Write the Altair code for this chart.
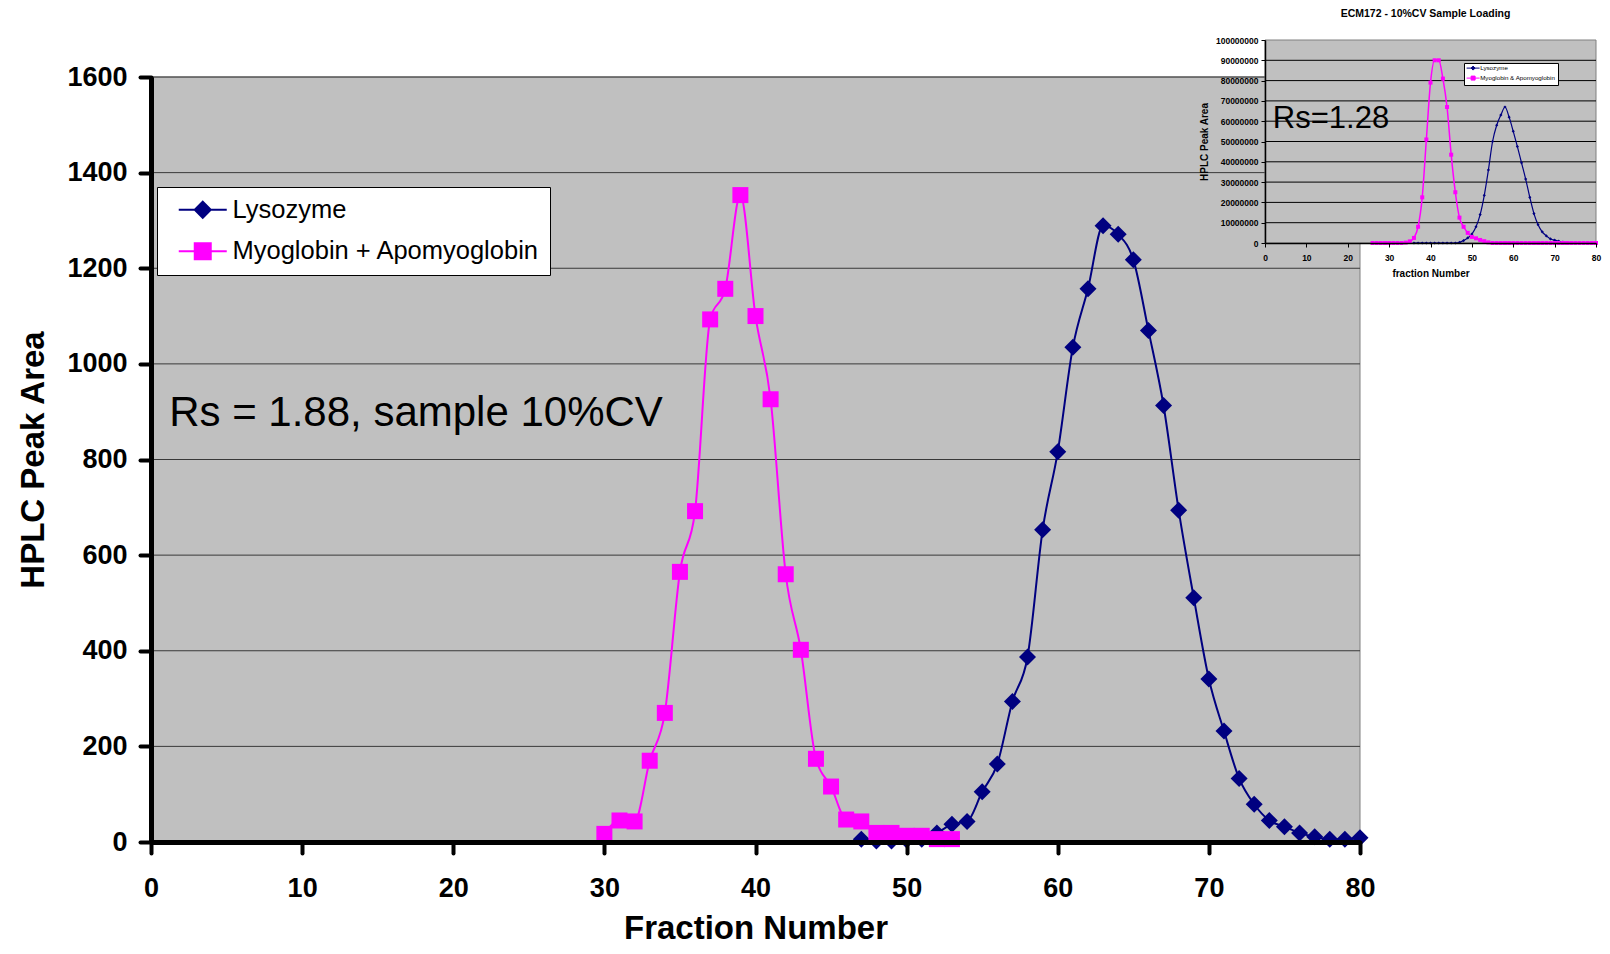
import altair as alt
import pandas as pd

FONT = "Liberation Sans"
NAVY = "#000080"
MAGENTA = "#FF00FF"
PLOT_BG = "#C0C0C0"

# ---------------- main chart data ----------------
series_names = ["Lysozyme", "Myoglobin + Apomyoglobin"]
myo_fraction = list(range(30, 54))
myo_area = [17, 45, 43, 170, 270, 565, 692, 1093, 1157, 1353, 1100, 926, 560, 402,
            174, 116, 47, 43, 19, 19, 13, 13, 6, 6]
lys_fraction = list(range(47, 81))
lys_area = [6, 2, 2, 4, 6, 19, 37, 43, 105, 163, 294, 387, 653, 816, 1035, 1157, 1289,
            1271, 1218, 1070, 913, 694, 511, 341, 232, 133, 79, 45, 32, 19, 11, 6, 6, 9]
main_x_ticks = list(range(0, 81, 10))
main_y_ticks = list(range(0, 1601, 200))
main_grid_vals = list(range(200, 1601, 200))
main_note = "Rs = 1.88, sample 10%CV"

# ---------------- inset chart data ----------------
inset_title = "ECM172 - 10%CV Sample Loading"
inset_series = ["Lysozyme", "Myoglobin & Apomyoglobin"]
inset_note = "Rs=1.28"
inset_myo_fraction = list(range(26, 81))
inset_myo_area = [0] * 8 + [0.2e6, 0.8e6, 2.5e6, 8e6, 22.5e6, 51e6, 79e6, 90e6, 90e6, 81e6,
                            67e6, 43.5e6, 25e6, 12.5e6, 8e6, 5e6, 3e6, 2.3e6, 1.5e6, 0.9e6,
                            0.3e6] + [0] * 26
inset_lys_fraction = list(range(36, 74))
inset_lys_area = [0] * 11 + [0.3e6, 1.2e6, 2.5e6, 4.4e6, 8e6, 14e6, 23.5e6, 36e6, 50e6, 58e6,
                             63e6, 67e6, 62e6, 55e6, 47.5e6, 39.5e6, 31.5e6, 22.5e6, 14.5e6,
                             9e6, 5.5e6, 3.5e6, 2e6, 1.4e6, 0.9e6, 0.4e6, 0.1e6]
inset_x_ticks = list(range(0, 81, 10))
inset_y_ticks = [i * 10_000_000 for i in range(11)]
inset_grid_vals = [i * 10_000_000 for i in range(1, 10)]

# ---------------- layout (pixels) ----------------
W, H = 1209, 765
IX0, IX1 = 1114, 1445      # inset plot x-range inside the canvas
IY0, IY1 = 166, -37        # inset plot y-range (bottom, top)

# legend symbols: connecting line + marker (custom SVG paths)
P_DIAMOND = "M-3,0L3,0M0,-1L1,0L0,1L-1,0Z"
P_SQUARE = "M-3,0L3,0M-1,-1L1,-1L1,1L-1,1Z"
P_DIAMOND_S = "M-3.25,0L3.25,0M0,-1L1,0L0,1L-1,0Z"
P_SQUARE_S = "M-3.25,0L3.25,0M-1,-1L1,-1L1,1L-1,1Z"

# ================= main chart =================
mx = alt.Scale(domain=[0, 80], nice=False, zero=False)
my = alt.Scale(domain=[0, 1600], nice=False)

main_x_axis = alt.Axis(
    orient="bottom", values=main_x_ticks, format="d", grid=False,
    domainColor="black", domainWidth=5, tickColor="black", tickWidth=4, tickSize=11,
    tickCap="round", labelFont=FONT, labelFontSize=27, labelFontWeight="bold",
    labelColor="black", labelPadding=22, labelFlush=False, labelOverlap=False,
    title="Fraction Number", titleFont=FONT, titleFontSize=33, titleFontWeight="bold",
    titleColor="black", titleX=W / 2, titleY=96, titleBaseline="alphabetic", zindex=1)
main_y_axis = alt.Axis(
    orient="left", values=main_y_ticks, format="d", grid=False,
    domainColor="black", domainWidth=5, tickColor="black", tickWidth=4, tickSize=11,
    tickCap="round", labelFont=FONT, labelFontSize=27, labelFontWeight="bold",
    labelColor="black", labelPadding=13, labelOverlap=False,
    title="HPLC Peak Area", titleFont=FONT, titleFontSize=33, titleFontWeight="bold",
    titleColor="black", titleX=-108, titleY=H / 2, titleBaseline="alphabetic",
    titleAngle=270, zindex=1)


def mxe(field):
    return alt.X(field, scale=mx, axis=main_x_axis)


def mye(field):
    return alt.Y(field, scale=my, axis=main_y_axis)


mbg_df = pd.DataFrame({"x0": [0], "x1": [80], "y0": [0], "y1": [1600]})
main_bg = alt.Chart(mbg_df).mark_rect(fill=PLOT_BG, stroke="#808080", strokeWidth=1).encode(
    x=mxe("x0:Q"), x2="x1", y=mye("y0:Q"), y2="y1")

mgrid_df = pd.DataFrame({"v": main_grid_vals, "x0": 0, "x1": 80})
main_grid = alt.Chart(mgrid_df).mark_rule(color="#383838", strokeWidth=1).encode(
    x=mxe("x0:Q"), x2="x1", y=mye("v:Q"))

lys_df = pd.DataFrame({"f": lys_fraction, "a": lys_area})
myo_df = pd.DataFrame({"f": myo_fraction, "a": myo_area})

lys_line = alt.Chart(lys_df).mark_line(color=NAVY, strokeWidth=2, interpolate="monotone").encode(
    x=mxe("f:Q"), y=mye("a:Q"))
lys_pts = alt.Chart(lys_df).mark_point(shape="diamond", filled=True, size=289, color=NAVY,
                                       opacity=1).encode(x=mxe("f:Q"), y=mye("a:Q"))
myo_line = alt.Chart(myo_df).mark_line(color=MAGENTA, strokeWidth=2, interpolate="monotone").encode(
    x=mxe("f:Q"), y=mye("a:Q"))
myo_pts = alt.Chart(myo_df).mark_point(shape="square", filled=True, size=256, color=MAGENTA,
                                       opacity=1).encode(x=mxe("f:Q"), y=mye("a:Q"))

note_df = pd.DataFrame({"x": [1.2], "y": [870], "t": [main_note]})
main_text = alt.Chart(note_df).mark_text(font=FONT, fontSize=42, align="left",
                                         baseline="alphabetic", color="black").encode(
    x=mxe("x:Q"), y=mye("y:Q"), text="t:N")

main_legend = alt.Legend(
    orient="none", legendX=6, legendY=110, title=None, fillColor="white", strokeColor="black",
    padding=10, cornerRadius=0, labelFont=FONT, labelFontSize=25.5, labelColor="black",
    labelLimit=0, labelExpr="datum.label + '\u00a0\u00a0'",
    symbolSize=256, symbolStrokeWidth=2, symbolOpacity=1, symbolOffset=23,
    labelOffset=17, rowPadding=14.5)
leg_df = pd.DataFrame({"entry": series_names})
main_leg = alt.Chart(leg_df).mark_point(filled=True, opacity=0, size=256, strokeWidth=2).encode(
    fill=alt.Fill("entry:N", scale=alt.Scale(domain=series_names, range=[NAVY, MAGENTA]),
                  legend=main_legend),
    stroke=alt.Stroke("entry:N", scale=alt.Scale(domain=series_names, range=[NAVY, MAGENTA]),
                      legend=main_legend),
    shape=alt.Shape("entry:N", scale=alt.Scale(domain=series_names, range=[P_DIAMOND, P_SQUARE]),
                    legend=main_legend))

main_layer = alt.layer(main_bg, main_grid, lys_line, lys_pts, myo_line, myo_pts, main_text,
                       main_leg)

# ================= inset chart =================
ix = alt.Scale(domain=[0, 80], range=[IX0, IX1], nice=False, zero=False)
iy = alt.Scale(domain=[0, 100_000_000], range=[IY0, IY1], nice=False)

inset_x_axis = alt.Axis(
    orient="bottom", offset=IY0 - H, values=inset_x_ticks, format="d", grid=False,
    domainColor="black", domainWidth=1.5, tickColor="black", tickWidth=1, tickSize=4,
    labelFont=FONT, labelFontSize=8.5, labelFontWeight="bold", labelColor="black",
    labelPadding=6, labelFlush=False, labelOverlap=False,
    title="fraction Number", titleFont=FONT, titleFontSize=10, titleFontWeight="bold",
    titleColor="black", titleX=(IX0 + IX1) / 2, titleY=33, titleBaseline="alphabetic", zindex=1)
inset_y_axis = alt.Axis(
    orient="left", offset=-IX0, values=inset_y_ticks, format="d", grid=False,
    domainColor="black", domainWidth=1.5, tickColor="black", tickWidth=1, tickSize=4,
    labelFont=FONT, labelFontSize=8.5, labelFontWeight="bold", labelColor="black",
    labelPadding=3, labelOverlap=False,
    title="HPLC Peak Area", titleFont=FONT, titleFontSize=10, titleFontWeight="bold",
    titleColor="black", titleX=-58, titleY=(IY0 + IY1) / 2, titleBaseline="alphabetic",
    titleAngle=270, zindex=1)


def ixe(field):
    return alt.X(field, scale=ix, axis=inset_x_axis)


def iye(field):
    return alt.Y(field, scale=iy, axis=inset_y_axis)


bg_df = pd.DataFrame({"x0": [0], "x1": [80], "y0": [0], "y1": [100_000_000]})
inset_bg = alt.Chart(bg_df).mark_rect(fill=PLOT_BG, stroke="#808080", strokeWidth=1).encode(
    x=ixe("x0:Q"), x2="x1", y=iye("y0:Q"), y2="y1")

grid_df = pd.DataFrame({"v": inset_grid_vals, "x0": 0, "x1": 80})
inset_grid = alt.Chart(grid_df).mark_rule(color="black", strokeWidth=1).encode(
    x=ixe("x0:Q"), x2="x1", y=iye("v:Q"))

ilys_df = pd.DataFrame({"f": inset_lys_fraction, "a": inset_lys_area})
imyo_df = pd.DataFrame({"f": inset_myo_fraction, "a": inset_myo_area})

ilys_line = alt.Chart(ilys_df).mark_line(color=NAVY, strokeWidth=1.2, interpolate="monotone").encode(
    x=ixe("f:Q"), y=iye("a:Q"))
ilys_pts = alt.Chart(ilys_df).mark_point(shape="diamond", filled=True, size=10, color=NAVY,
                                         opacity=1).encode(x=ixe("f:Q"), y=iye("a:Q"))
imyo_line = alt.Chart(imyo_df).mark_line(color=MAGENTA, strokeWidth=1.5, interpolate="monotone").encode(
    x=ixe("f:Q"), y=iye("a:Q"))
imyo_pts = alt.Chart(imyo_df).mark_point(shape="square", filled=True, size=16, color=MAGENTA,
                                         opacity=1).encode(x=ixe("f:Q"), y=iye("a:Q"))

inote_df = pd.DataFrame({"x": [1.9], "y": [56_600_000], "t": [inset_note]})
inset_text = alt.Chart(inote_df).mark_text(font=FONT, fontSize=31, align="left",
                                           baseline="alphabetic", color="black").encode(
    x=ixe("x:Q"), y=iye("y:Q"), text="t:N")

ititle_df = pd.DataFrame({"x": [38.8], "y": [111_200_000], "t": [inset_title]})
inset_title_mark = alt.Chart(ititle_df).mark_text(font=FONT, fontSize=10.5, fontWeight="bold",
                                                  align="center", baseline="alphabetic",
                                                  color="black").encode(
    x=ixe("x:Q"), y=iye("y:Q"), text="t:N")

inset_legend = alt.Legend(
    orient="none", legendX=1313, legendY=-14, title=None, fillColor="white", strokeColor="black",
    padding=2, cornerRadius=0, labelFont=FONT, labelFontSize=6.2, labelColor="black",
    labelLimit=0, symbolSize=16, symbolStrokeWidth=1, symbolOpacity=1, symbolOffset=4,
    labelOffset=4, rowPadding=1)
ileg_df = pd.DataFrame({"entry2": inset_series})
inset_leg = alt.Chart(ileg_df).mark_point(filled=True, opacity=0, size=16, strokeWidth=1).encode(
    fill=alt.Fill("entry2:N", scale=alt.Scale(domain=inset_series, range=[NAVY, MAGENTA]),
                  legend=inset_legend),
    stroke=alt.Stroke("entry2:N", scale=alt.Scale(domain=inset_series, range=[NAVY, MAGENTA]),
                      legend=inset_legend),
    shape=alt.Shape("entry2:N", scale=alt.Scale(domain=inset_series,
                                               range=[P_DIAMOND_S, P_SQUARE_S]),
                    legend=inset_legend))

inset_layer = alt.layer(inset_bg, inset_grid, ilys_line, ilys_pts, imyo_line, imyo_pts,
                        inset_text, inset_title_mark, inset_leg)

chart = alt.layer(main_layer, inset_layer).resolve_scale(
    x="independent", y="independent", fill="independent", stroke="independent",
    shape="independent"
).properties(
    width=W, height=H,
    autosize=alt.AutoSizeParams(type="none"),
    padding={"left": 143, "top": 69, "right": 242, "bottom": 104},
).configure(font=FONT).configure_view(stroke=None)

chart.save("out.html", embed_options={"renderer": "svg", "actions": False})
